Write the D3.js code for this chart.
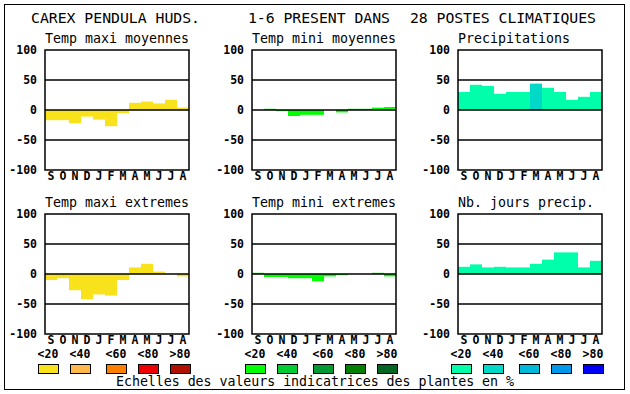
<!DOCTYPE html>
<html>
<head>
<meta charset="utf-8">
<script src="https://cdn.jsdelivr.net/npm/d3@7"></script>
<style>
  body { margin: 0; background: #fff; }
  text { font-family: "DejaVu Sans Mono", monospace; fill: #000; }
  .bold { font-weight: bold; }
</style>
</head>
<body>
<svg id="chart" width="630" height="394"></svg>
<script>
// months, Sept -> Aug
var months = ["S", "O", "N", "D", "J", "F", "M", "A", "M", "J", "J", "A"];

// values (-100..100)
var tempMaxiMoy = [-17, -17, -22, -11, -16, -27, -5, 12, 14, 11, 17, 4];
var tempMiniMoy = [0, 2, -2, -10, -8, -8, 0, -4, 2, 2, 4, 5];
var precipitations = [30, 42, 40, 27, 30, 30, 44, 37, 30, 17, 22, 30];
var tempMaxiExt = [-10, -7, -27, -42, -34, -36, -10, 11, 17, 4, 0, -4];
var tempMiniExt = [2, -5, -5, -7, -7, -12, -4, -2, 0, 0, 2, -4];
var nbJoursPrecip = [12, 16, 11, 12, 11, 11, 17, 24, 36, 36, 11, 22];

// indicator class of each bar (0: <20 ... 4: >80)
var precipClass = [0, 0, 0, 0, 0, 0, 1, 0, 0, 0, 0, 0];
var noClass = [0, 0, 0, 0, 0, 0, 0, 0, 0, 0, 0, 0];

var yTicks = [100, 50, 0, -50, -100];
var classLabels = ["<20", "<40", "<60", "<80", ">80"];

var yellows = ["#f8e21c", "#ffb84c", "#ff7f00", "#ee0000", "#b01000"];
var greens = ["#00ff00", "#00cc33", "#009933", "#008000", "#006622"];
var cyans = ["#00ffaa", "#00d8c8", "#00b8d8", "#0098e8", "#0000f8"];

var panels = [
  { title: "Temp maxi moyennes", values: tempMaxiMoy, cls: noClass, colors: yellows, col: 0, row: 0 },
  { title: "Temp mini moyennes", values: tempMiniMoy, cls: noClass, colors: greens, col: 1, row: 0 },
  { title: "Precipitations", values: precipitations, cls: precipClass, colors: cyans, col: 2, row: 0 },
  { title: "Temp maxi extremes", values: tempMaxiExt, cls: noClass, colors: yellows, col: 0, row: 1 },
  { title: "Temp mini extremes", values: tempMiniExt, cls: noClass, colors: greens, col: 1, row: 1 },
  { title: "Nb. jours precip.", values: nbJoursPrecip, cls: noClass, colors: cyans, col: 2, row: 1 }
];

var colLeft = [45, 252, 458];
var rowTop = [50, 214];
var boxW = 144, boxH = 120;

var svg = d3.select("#chart");

// outer frame
svg.append("rect")
  .attr("x", 4.5).attr("y", 4.5)
  .attr("width", 620).attr("height", 385)
  .attr("fill", "none").attr("stroke", "#000").attr("stroke-width", 1);

// heading
svg.append("text").attr("x", 31).attr("y", 23).attr("font-size", 14.8)
  .attr("textLength", 169).text("CAREX PENDULA HUDS.");
svg.append("text").attr("x", 248).attr("y", 23).attr("font-size", 14.8)
  .attr("textLength", 142).text("1-6 PRESENT DANS");
svg.append("text").attr("x", 410).attr("y", 23).attr("font-size", 14.8)
  .attr("textLength", 186).text("28 POSTES CLIMATIQUES");

var x = d3.scaleBand().domain(d3.range(12)).range([0, boxW]).padding(0);
var y = d3.scaleLinear().domain([-100, 100]).range([boxH, 0]);

panels.forEach(function(p) {
  var g = svg.append("g")
    .attr("transform", "translate(" + colLeft[p.col] + "," + rowTop[p.row] + ")");

  g.append("text").attr("x", 0).attr("y", -7).attr("font-size", 13.3)
    .text(p.title);

  // bars
  g.selectAll("rect.bar")
    .data(p.values)
    .enter().append("rect")
    .attr("class", "bar")
    .attr("x", function(d, i) { return x(i); })
    .attr("width", x.bandwidth())
    .attr("y", function(d) { return y(Math.max(0, d)); })
    .attr("height", function(d) { return Math.abs(y(d) - y(0)); })
    .attr("fill", function(d, i) { return p.colors[p.cls[i]]; });

  // grid lines at 50, 0, -50
  g.selectAll("line.grid")
    .data([50, 0, -50])
    .enter().append("line")
    .attr("x1", 0).attr("x2", boxW)
    .attr("y1", function(d) { return y(d); })
    .attr("y2", function(d) { return y(d); })
    .attr("stroke", "#000").attr("stroke-width", 1.5);

  g.append("rect")
    .attr("width", boxW).attr("height", boxH)
    .attr("fill", "none").attr("stroke", "#000").attr("stroke-width", 1.5);

  // y tick labels
  g.selectAll("text.tick")
    .data(yTicks)
    .enter().append("text")
    .attr("class", "tick bold")
    .attr("x", -8)
    .attr("y", function(d) { return y(d) + 4; })
    .attr("text-anchor", "end")
    .attr("font-size", 11.5)
    .text(function(d) { return d; });

  // month letters
  g.selectAll("text.month")
    .data(months)
    .enter().append("text")
    .attr("class", "month bold")
    .attr("x", function(d, i) { return x(i) + x.bandwidth() / 2; })
    .attr("y", boxH + 10)
    .attr("text-anchor", "middle")
    .attr("font-size", 11.5)
    .text(function(d) { return d; });

  // legend under the bottom row
  if (p.row === 1) {
    var swX = [-7, 25, 61, 93, 125];
    g.selectAll("text.cls")
      .data(classLabels)
      .enter().append("text")
      .attr("class", "cls bold")
      .attr("x", function(d, i) { return swX[i] + 10; })
      .attr("y", boxH + 24)
      .attr("text-anchor", "middle")
      .attr("font-size", 11.5)
      .text(function(d) { return d; });
    g.selectAll("rect.sw")
      .data(p.colors)
      .enter().append("rect")
      .attr("class", "sw")
      .attr("x", function(d, i) { return swX[i] + 0.5; })
      .attr("y", boxH + 30.5)
      .attr("width", 20).attr("height", 9)
      .attr("fill", function(d) { return d; })
      .attr("stroke", "#000").attr("stroke-width", 1);
  }
});

svg.append("text").attr("x", 116).attr("y", 386).attr("font-size", 13.3)
  .attr("textLength", 398)
  .text("Echelles des valeurs indicatrices des plantes en %");
</script>
</body>
</html>
